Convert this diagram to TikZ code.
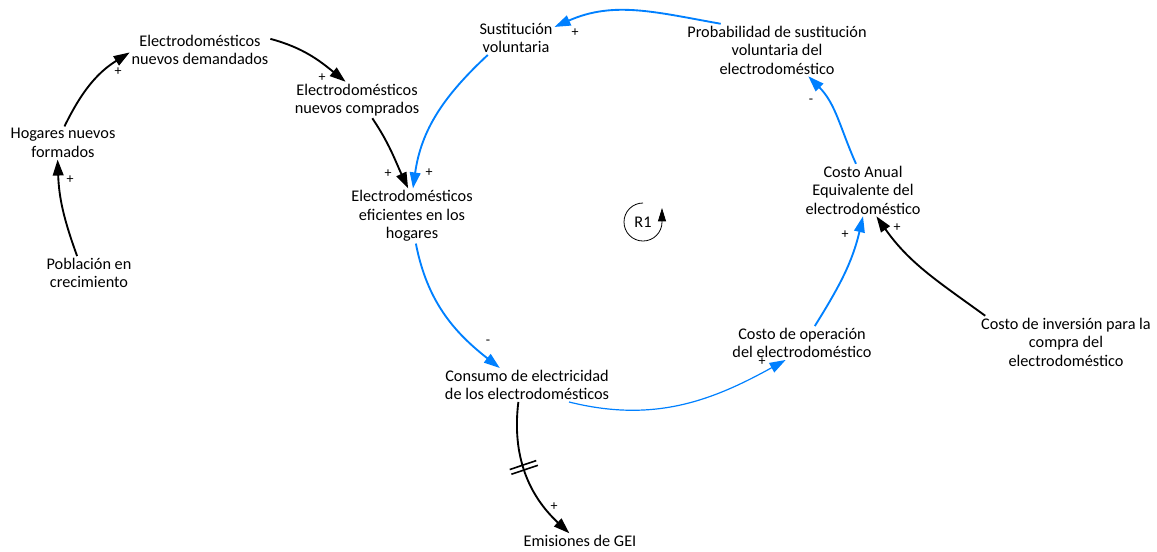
\documentclass[tikz,border=0pt]{standalone}
\usepackage{fontspec}
\setmainfont{Carlito}
\usepackage{tikz}
\usetikzlibrary{arrows.meta}
\usetikzlibrary{decorations.markings}
\definecolor{loopblue}{RGB}{0,128,255}
\colorlet{linkblack}{black}

\begin{document}
\begin{tikzpicture}[
x=0.75pt, y=0.75pt,
Variable/.style={align=center, inner sep=1.5pt, outer sep=0pt, font=\fontsize{12.2}{13.9}\selectfont},
Link/.style={-{Triangle[length=12pt, width=8pt]}, line width=1.4pt, linkblack},
LoopLink/.style={Link, loopblue},
Sign/.style={inner sep=0pt, font=\fontsize{10.5}{10.5}\selectfont},
Delay/.style={decoration={markings, mark=at position 0.45 with {\draw[-, line width=1.2pt] (-2.5,-14)--(-2.5,14) (2.5,-14)--(2.5,14);}}, postaction={decorate}}
]
\useasboundingbox (0,0) rectangle (1157,-551);

% variables
\node[Variable] (dem) at (200,-50) {Electrodomésticos\\nuevos demandados};
\node[Variable] (comp) at (357,-100) {Electrodomésticos\\nuevos comprados};
\node[Variable] (hog) at (63,-143) {Hogares nuevos\\formados};
\node[Variable] (pob) at (89,-273) {Población en\\crecimiento};
\node[Variable] (eff) at (412,-216) {Electrodomésticos\\eficientes en los\\hogares};
\node[Variable] (sus) at (516,-38) {Sustitución\\voluntaria};
\node[Variable] (prob) at (777,-50) {Probabilidad de sustitución\\voluntaria del\\electrodoméstico};
\node[Variable] (cae) at (863,-190) {Costo Anual\\Equivalente del\\electrodoméstico};
\node[Variable] (cop) at (802,-343) {Costo de operación\\del electrodoméstico};
\node[Variable] (cinv) at (1066,-342) {Costo de inversión para la\\compra del\\electrodoméstico};
\node[Variable] (cons) at (527,-385) {Consumo de electricidad\\de los electrodomésticos};
\node[Variable] (emi) at (580,-541) {Emisiones de GEI};

% causal links
\draw[Link] (hog.85) to[out=64, in=212] (dem.182);
\draw[Link] (pob.125) to[out=110, in=-88] (hog.252);
\draw[Link] (dem.9) to[out=-15, in=141] (comp.122);
\draw[Link] (comp.-50) to[out=-56, in=115] (eff.98);
\draw[LoopLink] (sus.211) to[out=-137, in=82] (eff.88);
\draw[LoopLink] (prob.155) to[out=170, in=24] (sus.16);
\draw[LoopLink] (cae.105) to[out=114, in=-45] (prob.-40);
\draw[LoopLink] (cop.53) to[out=58, in=-103] (cae.-90);
\draw[Link] (cinv.162) to[out=144, in=-55] (cae.-63);
\draw[LoopLink] (eff.-82) to[out=-79, in=142] (cons.148);
\draw[LoopLink, line width=0.9pt] (cons.-22) to[out=-14, in=209] (cop.226);
\draw[Link, Delay] (cons.243) to[out=-97, in=137] (emi.144);

% polarities
\node[Sign] (s1) at (118,-72) {+};
\node[Sign] (s2) at (70,-180) {+};
\node[Sign] (s3) at (322,-78) {+};
\node[Sign] (s4) at (388,-174) {+};
\node[Sign] (s5) at (429,-173) {+};
\node[Sign] (s6) at (575,-33) {+};
\node[Sign] (s7) at (811,-101) {-};
\node[Sign] (s8) at (845,-235) {+};
\node[Sign] (s9) at (897,-228) {+};
\node[Sign] (s10) at (488,-342) {-};
\node[Sign] (s11) at (762,-362) {+};
\node[Sign] (s12) at (554,-507) {+};

% loop R1
\node[Variable] (R1) at (643,-222) {R1};
\draw[-{Triangle[length=10pt, width=6pt]}, line width=0.6pt] (R1.center) ++(0,19) arc (90:360:19) -- ++(0,14);

\end{tikzpicture}
\end{document}
